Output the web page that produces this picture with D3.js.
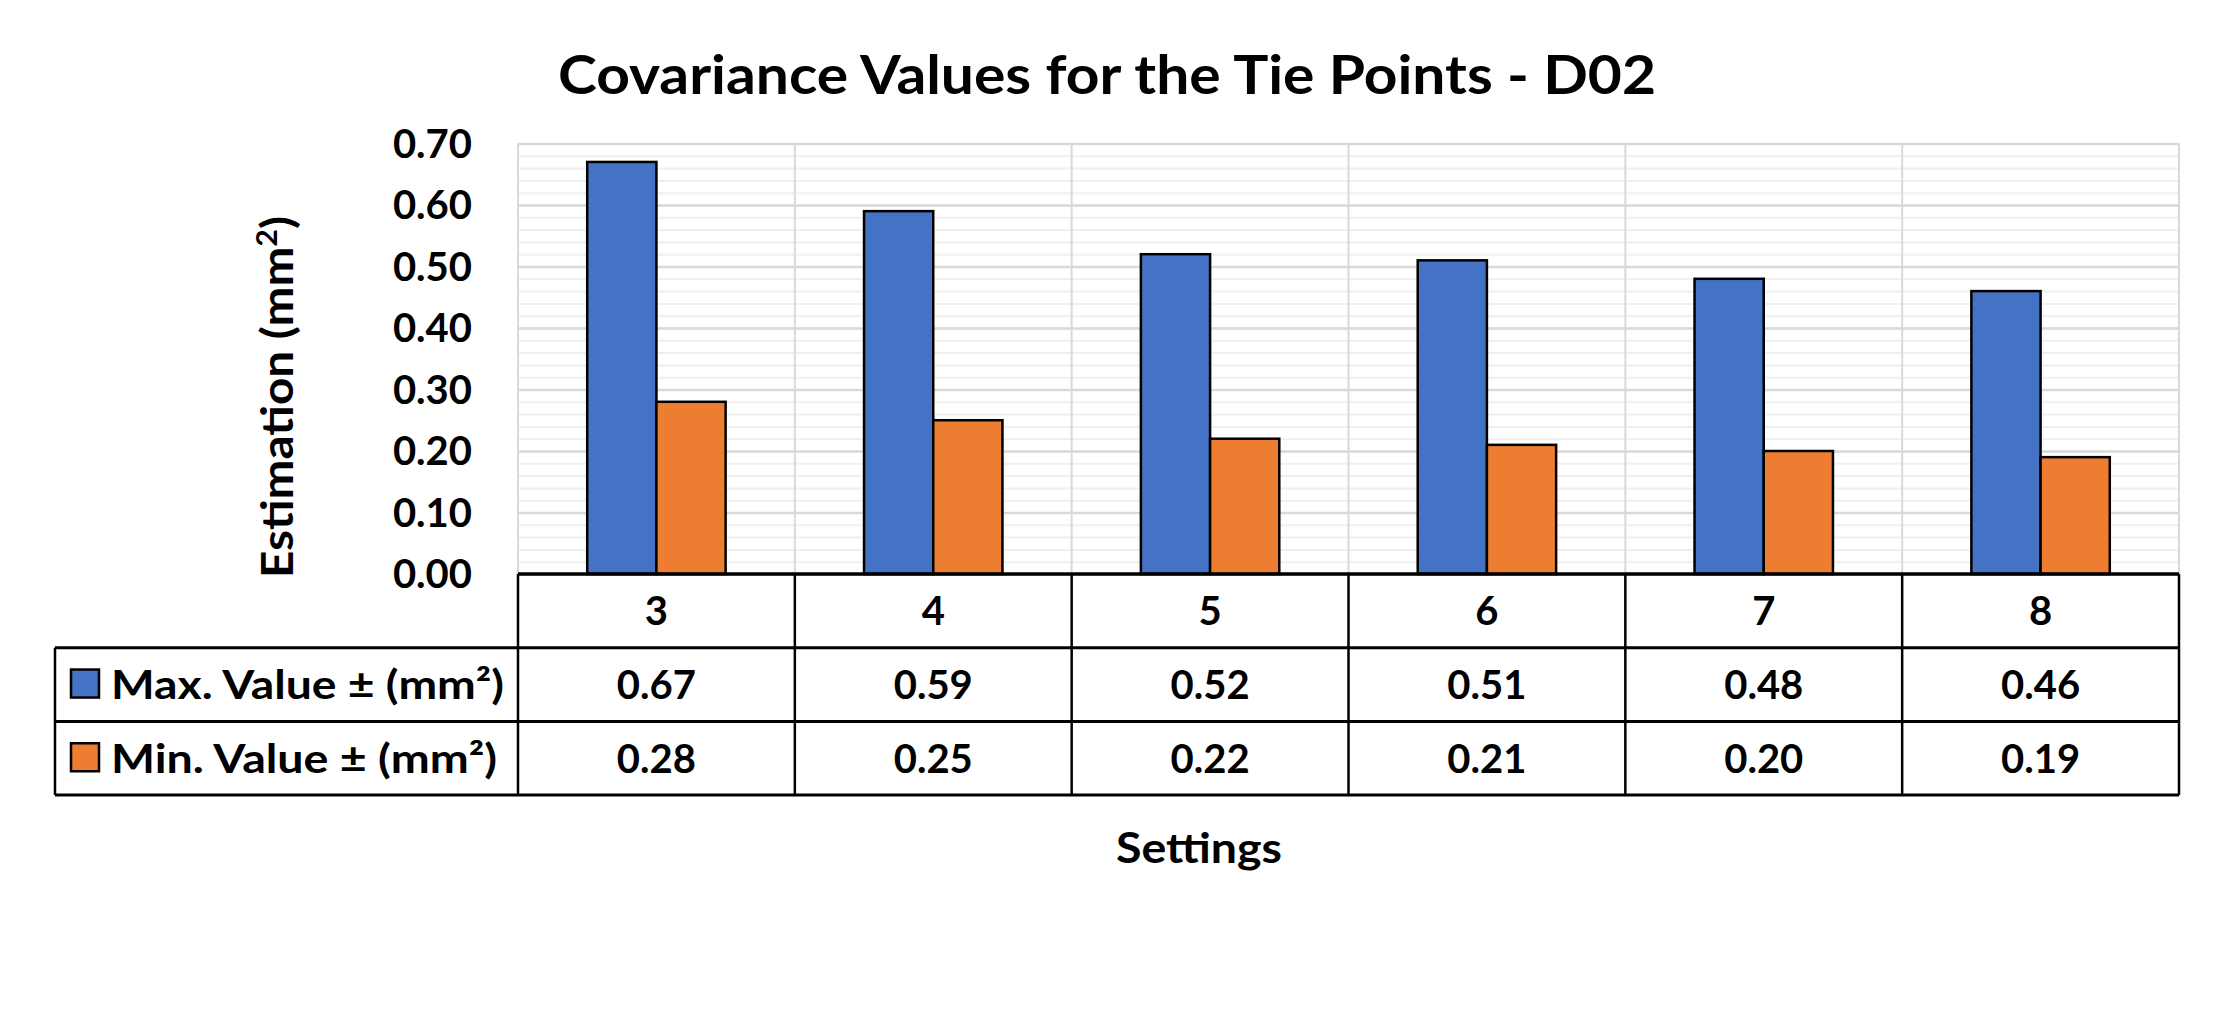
<!DOCTYPE html>
<html>
<head>
<meta charset="utf-8">
<script src="https://cdn.jsdelivr.net/npm/d3@7"></script>
<style>
body { margin: 0; background: #fff; }
text { font-family: Lato, "Open Sans", sans-serif; font-weight: bold; fill: #000; }
</style>
</head>
<body>
<div class="chart"></div>
<script>
var settings = ['3', '4', '5', '6', '7', '8'];
var maxValues = [0.67, 0.59, 0.52, 0.51, 0.48, 0.46];
var minValues = [0.28, 0.25, 0.22, 0.21, 0.20, 0.19];
var seriesNames = ['Max. Value \u00b1 (mm\u00b2)', 'Min. Value \u00b1 (mm\u00b2)'];
var seriesColors = ['#4472c4', '#ed7d31'];
var yTicks = [0, 0.1, 0.2, 0.3, 0.4, 0.5, 0.6, 0.7];

var width = 2217,
    height = 1010,
    plot = {left: 518, right: 2179, top: 143.5, bottom: 574},
    rowH = 73.7,
    legendLeft = 55;

var series = [maxValues, minValues];

var svg = d3.select('div.chart')
    .append('svg')
        .attr('width', width)
        .attr('height', height);

var x = d3.scaleBand()
    .domain(settings)
    .range([plot.left, plot.right]);

var inner = d3.scaleBand()
    .domain([0, 1])
    .range([0, x.bandwidth()])
    .paddingOuter(1);

var y = d3.scaleLinear()
    .domain([0, 0.7])
    .range([plot.bottom, plot.top]);

// minor + major horizontal gridlines
svg.append('g')
    .attr('transform', 'translate(' + plot.left + ',0)')
    .call(d3.axisLeft(y).ticks(35).tickSize(-(plot.right - plot.left)).tickFormat(''))
    .call((g) => g.select('.domain').remove())
    .selectAll('line')
        .attr('stroke', '#efefef')
        .attr('stroke-width', 2);

svg.append('g')
    .attr('transform', 'translate(' + plot.left + ',0)')
    .call(d3.axisLeft(y).tickValues(yTicks).tickSize(-(plot.right - plot.left)).tickFormat(''))
    .call((g) => g.select('.domain').remove())
    .selectAll('line')
        .attr('stroke', '#d9d9d9')
        .attr('stroke-width', 2.5);

// vertical gridlines at category edges
var edges = settings.map((d) => x(d)).concat([plot.right]);
svg.append('g')
    .selectAll('line')
    .data(edges)
    .enter()
    .append('line')
        .attr('x1', (d) => d)
        .attr('x2', (d) => d)
        .attr('y1', plot.top)
        .attr('y2', plot.bottom)
        .attr('stroke', '#d9d9d9')
        .attr('stroke-width', 2);

// y tick labels
svg.append('g')
    .selectAll('text')
    .data(yTicks)
    .enter()
    .append('text')
        .attr('x', 472)
        .attr('y', (d) => y(d))
        .attr('dy', '0.36em')
        .attr('text-anchor', 'end')
        .style('font-size', '40px')
        .text((d) => d.toFixed(2));

// bars
svg.append('g')
    .selectAll('g')
    .data(series)
    .enter()
    .append('g')
        .attr('fill', (d, i) => seriesColors[i])
        .each(function(vals, si) {
            d3.select(this).selectAll('rect')
                .data(vals)
                .enter()
                .append('rect')
                    .attr('x', (d, i) => x(settings[i]) + inner(si))
                    .attr('y', (d) => y(d))
                    .attr('width', inner.bandwidth())
                    .attr('height', (d) => y(0) - y(d))
                    .attr('stroke', '#000')
                    .attr('stroke-width', 2.5);
        });

// data table
var table = svg.append('g');
var rowTop = [plot.bottom, plot.bottom + rowH, plot.bottom + rowH * 2, plot.bottom + rowH * 3];

table.selectAll('text.cat')
    .data(settings)
    .enter()
    .append('text')
        .attr('class', 'cat')
        .attr('x', (d) => x(d) + x.bandwidth() / 2)
        .attr('y', rowTop[0] + rowH / 2)
        .attr('dy', '0.36em')
        .attr('text-anchor', 'middle')
        .style('font-size', '40px')
        .text((d) => d);

series.forEach(function(vals, si) {
    table.selectAll('text.v' + si)
        .data(vals)
        .enter()
        .append('text')
            .attr('class', 'v' + si)
            .attr('x', (d, i) => x(settings[i]) + x.bandwidth() / 2)
            .attr('y', rowTop[si + 1] + rowH / 2)
            .attr('dy', '0.36em')
            .attr('text-anchor', 'middle')
            .style('font-size', '40px')
            .text((d) => d.toFixed(2));

    table.append('rect')
        .attr('x', 71)
        .attr('y', rowTop[si + 1] + rowH / 2 - 15)
        .attr('width', 28)
        .attr('height', 28)
        .attr('fill', seriesColors[si])
        .attr('stroke', '#000')
        .attr('stroke-width', 2.5);

    table.append('text')
        .attr('x', 111)
        .attr('y', rowTop[si + 1] + rowH / 2)
        .attr('dy', '0.36em')
        .attr('textLength', si === 0 ? 393 : 386)
        .attr('lengthAdjust', 'spacingAndGlyphs')
        .style('font-size', '40px')
        .text(seriesNames[si]);
});

// table horizontal lines
table.append('line')
    .attr('x1', plot.left).attr('x2', plot.right)
    .attr('y1', rowTop[0]).attr('y2', rowTop[0])
    .attr('stroke', '#000').attr('stroke-width', 3.5);

table.selectAll('line.h')
    .data(rowTop.slice(1))
    .enter()
    .append('line')
        .attr('class', 'h')
        .attr('x1', legendLeft)
        .attr('x2', plot.right)
        .attr('y1', (d) => d)
        .attr('y2', (d) => d)
        .attr('stroke', '#000')
        .attr('stroke-width', 3);

table.selectAll('line.v')
    .data(edges)
    .enter()
    .append('line')
        .attr('class', 'v')
        .attr('x1', (d) => d)
        .attr('x2', (d) => d)
        .attr('y1', rowTop[0])
        .attr('y2', rowTop[3])
        .attr('stroke', '#000')
        .attr('stroke-width', 2.5);

table.append('line')
    .attr('x1', legendLeft).attr('x2', legendLeft)
    .attr('y1', rowTop[1]).attr('y2', rowTop[3])
    .attr('stroke', '#000').attr('stroke-width', 2.5);

// titles
svg.append('text')
    .attr('x', 1107)
    .attr('y', 94)
    .attr('text-anchor', 'middle')
    .attr('textLength', 1098)
    .attr('lengthAdjust', 'spacingAndGlyphs')
    .style('font-size', '54px')
    .text('Covariance Values for the Tie Points - D02');

svg.append('text')
    .attr('x', 1199)
    .attr('y', 863)
    .attr('text-anchor', 'middle')
    .attr('textLength', 166)
    .attr('lengthAdjust', 'spacingAndGlyphs')
    .style('font-size', '42px')
    .text('Settings');

var yTitle = svg.append('text')
    .attr('transform', 'translate(293,397) rotate(-90)')
    .attr('text-anchor', 'middle')
    .attr('textLength', 362)
    .attr('lengthAdjust', 'spacingAndGlyphs')
    .style('font-size', '44px');
yTitle.append('tspan').text('Estimation  (mm');
yTitle.append('tspan').attr('dy', -16).style('font-size', '28px').text('2');
yTitle.append('tspan').attr('dy', 16).text(')');
</script>
</body>
</html>
